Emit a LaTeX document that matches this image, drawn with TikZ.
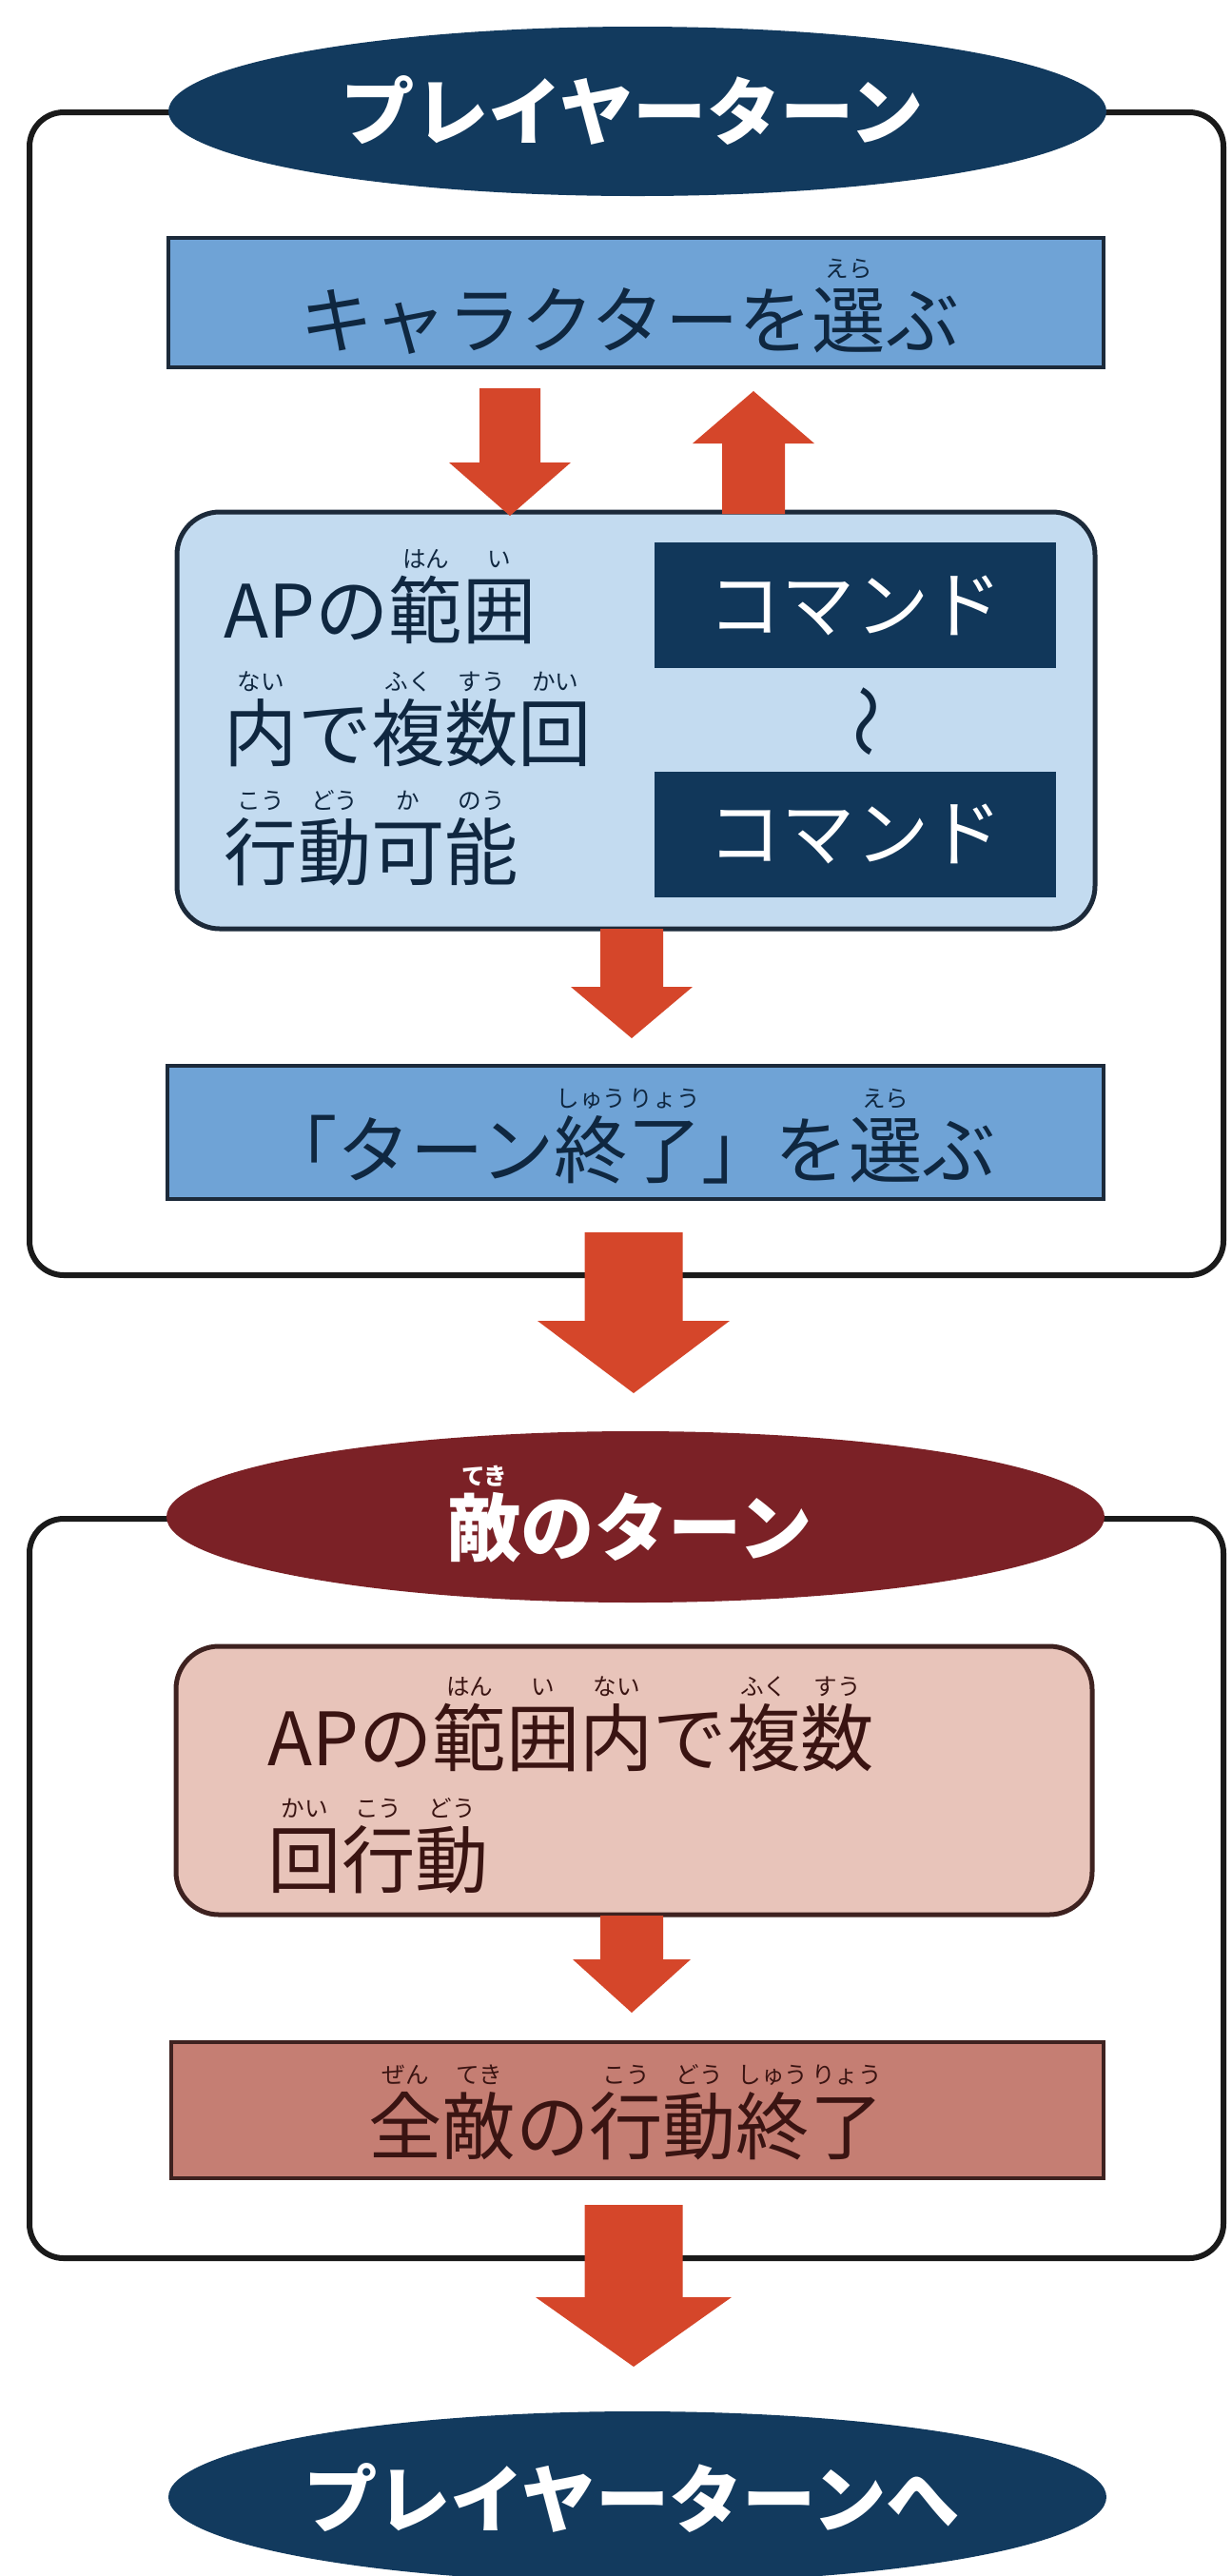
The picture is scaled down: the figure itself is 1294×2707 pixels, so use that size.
\documentclass[tikz,border=0pt]{standalone}
\usepackage{fontspec}
\newfontfamily\jp{Noto Sans CJK JP}
\usetikzlibrary{shapes.geometric}
\definecolor{navy}{HTML}{123A5E}
\definecolor{cmdnavy}{HTML}{11375A}
\definecolor{boxblue}{HTML}{6FA3D6}
\definecolor{lightblue}{HTML}{C3DBF0}
\definecolor{bluetext}{HTML}{0F2740}
\definecolor{boxline}{HTML}{1C2A3A}
\definecolor{arrowred}{HTML}{D5462A}
\definecolor{enemyred}{HTML}{7B2126}
\definecolor{pinkbox}{HTML}{E8C4BA}
\definecolor{enemybox}{HTML}{C57E73}
\definecolor{redtext}{HTML}{3A1412}
\definecolor{redline}{HTML}{3E2220}
\definecolor{frame}{HTML}{1A1A1A}
\newcommand\mainsize{\fontsize{22pt}{26pt}\selectfont}
\newcommand\rb[2]{\leavevmode\setbox0\hbox{#1}\setbox2\hbox{\fontsize{7pt}{8pt}\selectfont #2}%
  \ifdim\wd2>\wd0\relax\setbox0\hbox to\wd2{\hss#1\hss}\fi
  \rlap{\raisebox{0.95em}{\hbox to\wd0{\hss\box2\hss}}}\box0}
\newcommand\blockarrow[6]{%
  \fill[arrowred] ({#1-#5},#2) -- ({#1+#5},#2) -- ({#1+#5},#3) -- ({#1+#6},#3) -- (#1,#4)
    -- ({#1-#6},#3) -- ({#1-#5},#3) -- cycle;}
\tikzset{
  outerframe/.style={draw=frame, line width=0.6mm, rounded corners=3.6mm, fill=white, inner sep=0},
  turnoval/.style={ellipse, inner sep=0, minimum width=98.6mm, minimum height=17.8mm},
  titletext/.style={text=white, font=\jp\mainsize\bfseries, anchor=base, inner sep=0},
  bluebox/.style={draw=boxline, line width=0.45mm, fill=boxblue, inner sep=0},
  roundblue/.style={draw=boxline, line width=0.5mm, fill=lightblue, rounded corners=4.5mm, inner sep=0},
  cmdbox/.style={fill=cmdnavy, inner sep=0, text=white, font=\jp\mainsize, minimum width=42.2mm, minimum height=13.2mm},
  bluetxt/.style={text=bluetext, font=\jp\mainsize, inner sep=0},
  redbox/.style={draw=redline, line width=0.45mm, fill=enemybox, inner sep=0},
  roundpink/.style={draw=redline, line width=0.5mm, fill=pinkbox, rounded corners=4.5mm, inner sep=0},
  redtxt/.style={text=redtext, font=\jp\mainsize, inner sep=0},
}
\begin{document}
\begin{tikzpicture}[x=0.1mm,y=-0.1mm]
\useasboundingbox (0,0) rectangle (1294,2707);
\fill[white] (0,0) rectangle (1294,2707);

% ---------- player turn ----------
\node[outerframe, minimum width=125.5mm, minimum height=122.2mm] (frame1) at (658.5,729) {};
\node[turnoval, fill=navy] (oval1) at (670,117) {};
\node[titletext] (title1) at (665,146) {プレイヤーターン};

\node[bluebox, minimum width=98.3mm, minimum height=13.6mm] (boxA) at (668.5,318) {};
\node[bluetxt, anchor=base] (txtA) at (662,365) {キャラクターを\rb{選}{えら}ぶ};

\node[roundblue, minimum width=96.5mm, minimum height=43.8mm] (act) at (668.5,757) {};
\node[bluetxt, anchor=base west] (l1) at (235,670) {APの\rb{範}{はん}\rb{囲}{い}};
\node[bluetxt, anchor=base west] (l2) at (235,799) {\rb{内}{ない}で\rb{複}{ふく}\rb{数}{すう}\rb{回}{かい}};
\node[bluetxt, anchor=base west] (l3) at (235,924) {\rb{行}{こう}\rb{動}{どう}\rb{可}{か}\rb{能}{のう}};
\node[cmdbox] (cmd1) at (899,636) {コマンド};
\node[cmdbox] (cmd2) at (899,876.5) {コマンド};
\node[bluetxt, rotate=-90] (wave) at (901,758) {〜};

\node[bluebox, minimum width=98.4mm, minimum height=14.0mm] (boxEnd) at (668,1190) {};
\node[bluetxt, anchor=base] (txtEnd) at (662,1237) {「ターン\rb{終}{しゅう}\rb{了}{りょう}」を\rb{選}{えら}ぶ};

% ---------- enemy turn ----------
\node[outerframe, minimum width=125.5mm, minimum height=77.7mm] (frame2) at (658.5,1984.5) {};
\node[turnoval, fill=enemyred, minimum height=18mm] (oval2) at (668,1594) {};
\node[titletext] (title2) at (662,1634) {\rb{敵}{てき}のターン};

\node[roundpink, minimum width=96.3mm, minimum height=28.2mm] (eact) at (666.5,1871) {};
\node[redtxt, anchor=base west] (p1) at (281,1855) {APの\rb{範}{はん}\rb{囲}{い}\rb{内}{ない}で\rb{複}{ふく}\rb{数}{すう}};
\node[redtxt, anchor=base west] (p2) at (281,1983) {\rb{回}{かい}\rb{行}{こう}\rb{動}{どう}};

\node[redbox, minimum width=98.0mm, minimum height=14.3mm] (boxE) at (670,2217.5) {};
\node[redtxt, anchor=base] (txtE) at (658,2263) {\rb{全}{ぜん}\rb{敵}{てき}の\rb{行}{こう}\rb{動}{どう}\rb{終}{しゅう}\rb{了}{りょう}};

% ---------- back to player ----------
\node[turnoval, fill=navy, minimum height=18mm] (oval3) at (670,2624) {};
\node[titletext] (title3) at (664,2655) {プレイヤーターンへ};

% ---------- arrows ----------
\blockarrow{536}{408}{486}{542}{32}{64}
\blockarrow{792}{540}{466}{411}{33}{64}
\blockarrow{664}{976}{1037}{1091}{33}{64}
\blockarrow{666}{1295}{1388}{1464}{51.5}{101}
\blockarrow{664}{2013}{2059}{2115}{33}{62}
\blockarrow{666}{2317}{2414}{2487}{51.5}{103}
\end{tikzpicture}
\end{document}
